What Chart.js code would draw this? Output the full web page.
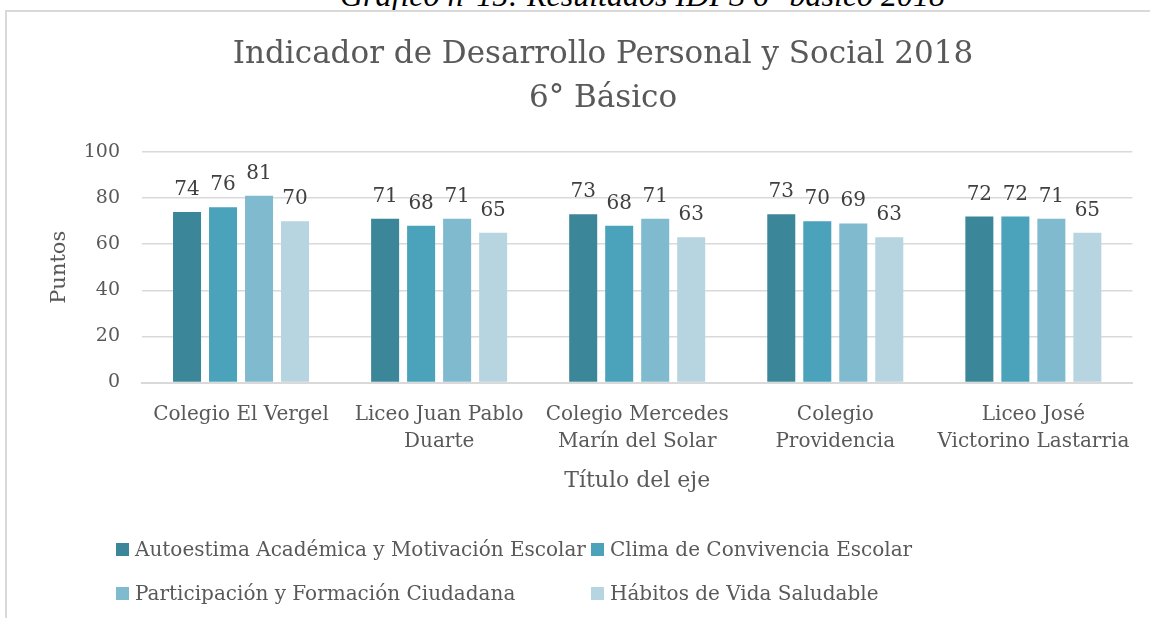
<!DOCTYPE html>
<html>
<head>
<meta charset="utf-8">
<script src="https://cdn.jsdelivr.net/npm/chart.js@4/dist/chart.umd.min.js"></script>
<style>
  html, body { margin: 0; padding: 0; background: #fff; }
  body { width: 1150px; height: 618px; position: relative; overflow: hidden; font-family: 'DejaVu Serif', serif; }
  #caption { position: absolute; left: 340px; top: -20px; line-height: 31px; white-space: nowrap; font-family: 'Liberation Serif', serif; font-style: italic; font-size: 32px; color: #000; }
  #frame { position: absolute; left: 5px; top: 10px; width: 1200px; height: 700px; border: 2px solid #d9d9d9; box-sizing: border-box; background: #fff; }
  #wrap { position: absolute; left: 0; top: 0; width: 1150px; height: 618px; }
  #legend { position: absolute; left: 0; top: 0; width: 1150px; height: 618px; pointer-events: none; }
  .li { position: absolute; display: flex; align-items: center; font-size: 20px; color: #595959; white-space: nowrap; }
  .sw { width: 13px; height: 13px; margin-right: 6px; }
</style>
</head>
<body>
<div id="caption">Gráfico n°15: Resultados IDPS 6° básico 2018</div>
<div id="frame"></div>
<div id="wrap"><canvas id="c" width="1150" height="618"></canvas></div>
<div id="legend"></div>
<script>
const categories = [
  'Colegio El Vergel',
  ['Liceo Juan Pablo', 'Duarte'],
  ['Colegio Mercedes', 'Marín del Solar'],
  ['Colegio', 'Providencia'],
  ['Liceo José', 'Victorino Lastarria']
];
const seriesNames = [
  'Autoestima Académica y Motivación Escolar',
  'Clima de Convivencia Escolar',
  'Participación y Formación Ciudadana',
  'Hábitos de Vida Saludable'
];
const titleLines = ['Indicador de Desarrollo Personal y Social 2018', '6° Básico'];
const autoestima = [74, 71, 73, 73, 72];
const clima = [76, 68, 68, 70, 72];
const participacion = [81, 71, 71, 69, 71];
const habitos = [70, 65, 63, 63, 65];
const seriesColors = ['#3b8699', '#4aa2bb', '#7fbacf', '#b6d5e0'];
const yTicks = [0, 20, 40, 60, 80, 100];

const TXT = '#595959';
const SERIF = "'DejaVu Serif', serif";

const valueLabels = {
  id: 'valueLabels',
  afterDatasetsDraw(chart) {
    const ctx = chart.ctx;
    ctx.save();
    ctx.font = '20px ' + SERIF;
    ctx.fillStyle = '#404040';
    ctx.textAlign = 'center';
    ctx.textBaseline = 'alphabetic';
    chart.data.datasets.forEach((ds, i) => {
      const meta = chart.getDatasetMeta(i);
      meta.data.forEach((bar, j) => {
        ctx.fillText(String(ds.data[j]), bar.x, bar.y - 17);
      });
    });
    ctx.restore();
  }
};

const chartTitle = {
  id: 'chartTitle',
  afterDraw(chart) {
    const ctx = chart.ctx;
    ctx.save();
    ctx.font = '31px ' + SERIF;
    ctx.fillStyle = TXT;
    ctx.textAlign = 'center';
    ctx.textBaseline = 'middle';
    titleLines.forEach((line, i) => ctx.fillText(line, 603, 54.5 + i * 44));
    ctx.restore();
  }
};

const LEFT_PAD = 47.4;
const chart = new Chart(document.getElementById('c'), {
  type: 'bar',
  data: {
    labels: categories,
    datasets: [autoestima, clima, participacion, habitos].map((d, i) => ({
      label: seriesNames[i],
      data: d,
      backgroundColor: seriesColors[i],
      borderWidth: 0,
      categoryPercentage: 0.727,
      barPercentage: 0.778
    }))
  },
  options: {
    responsive: false,
    animation: false,
    devicePixelRatio: 1,
    layout: { padding: { left: LEFT_PAD, right: 17, top: 152, bottom: 129.5 } },
    plugins: {
      legend: { display: false },
      tooltip: { enabled: false },
      title: { display: false }
    },
    scales: {
      x: {
        grid: { display: false, drawTicks: false },
        border: { display: true, color: '#d9d9d9', width: 2 },
        ticks: { color: TXT, font: { family: SERIF, size: 20, lineHeight: 1.35 }, padding: 19, maxRotation: 0, autoSkip: false },
        title: { display: true, text: 'Título del eje', color: TXT, font: { family: SERIF, size: 22, lineHeight: 0.636 }, padding: { top: 0, bottom: 0 } }
      },
      y: {
        min: 0, max: 100,
        afterBuildTicks(scale) { scale.ticks = yTicks.map(v => ({ value: v })); },
        afterFit(scale) { scale.width = 142 - LEFT_PAD; },
        grid: { color: '#d9d9d9', lineWidth: 1.5, drawTicks: false },
        border: { display: false },
        ticks: { color: TXT, font: { family: SERIF, size: 19 }, padding: 22 },
        title: { display: true, text: 'Puntos', color: TXT, font: { family: SERIF, size: 21, lineHeight: 1.2 }, padding: { top: 0, bottom: 0 } }
      }
    }
  },
  plugins: [valueLabels, chartTitle]
});

// legend drawn from the chart's datasets
const legendPos = [[116, 549], [591, 549], [116, 593], [591, 593]];
const leg = document.getElementById('legend');
chart.data.datasets.forEach((ds, i) => {
  const el = document.createElement('div');
  el.className = 'li';
  el.style.left = legendPos[i][0] + 'px';
  el.style.top = (legendPos[i][1] - 12) + 'px';
  el.style.height = '24px';
  const sw = document.createElement('span');
  sw.className = 'sw';
  sw.style.background = ds.backgroundColor;
  const t = document.createElement('span');
  t.textContent = ds.label;
  el.appendChild(sw); el.appendChild(t);
  leg.appendChild(el);
});
</script>
</body>
</html>
